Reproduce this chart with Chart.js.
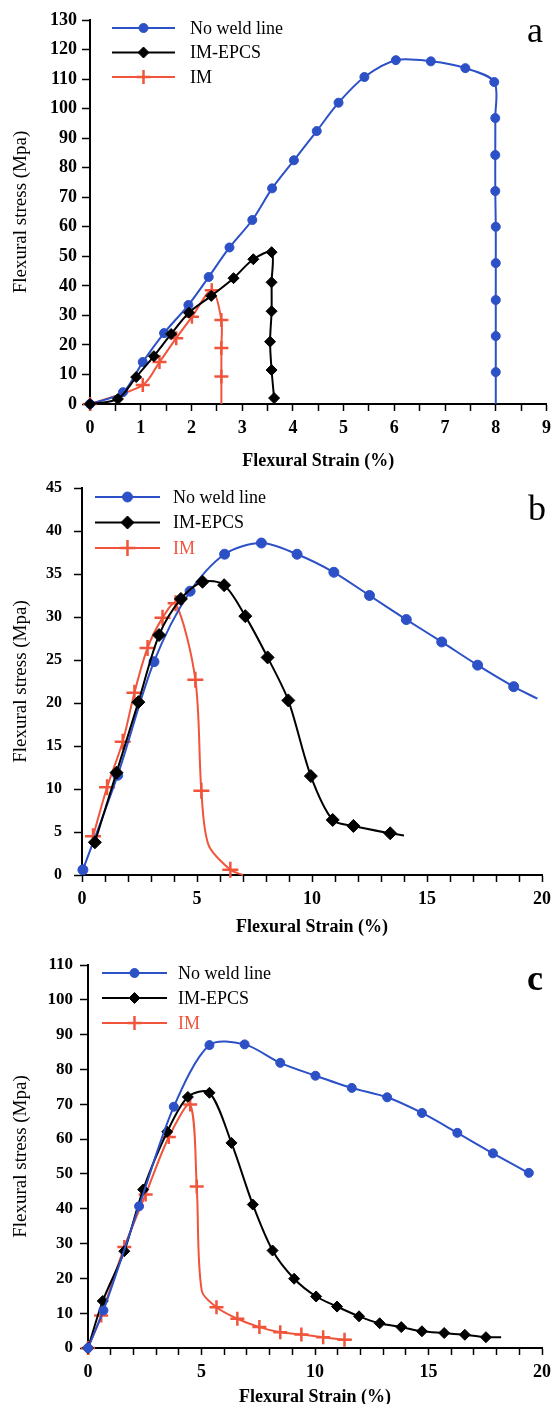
<!DOCTYPE html>
<html>
<head>
<meta charset="utf-8">
<script src="https://cdn.jsdelivr.net/npm/chart.js@4.4.1/dist/chart.umd.min.js"></script>
<style>
  html, body { margin: 0; padding: 0; background: #fff; }
  body { width: 558px; height: 1404px; position: relative; overflow: hidden; }
  canvas { position: absolute; left: 0; }
</style>
</head>
<body>
<canvas id="panelA" width="558" height="480" style="top:0px"></canvas>
<canvas id="panelB" width="558" height="480" style="top:460px"></canvas>
<canvas id="panelC" width="558" height="490" style="top:930px"></canvas>
<script>
// series names, same in all three panels
const seriesNames = ["No weld line", "IM-EPCS", "IM"];

// panel a : strain (%) / stress (MPa)
const aNoWeldX = [0, 0.65, 1.04, 1.46, 1.94, 2.34, 2.75, 3.2, 3.59, 4.02, 4.47, 4.9, 5.41, 6.03, 6.72, 7.4, 7.97, 7.99, 7.99, 7.99, 8.0, 8.0, 8.0, 8.0, 8.0, 8.0];
const aNoWeldY = [0, 4, 14.2, 24, 33.5, 43, 53, 62.3, 73, 82.5, 92.4, 102, 110.7, 116.4, 116, 113.7, 109, 96.8, 84.3, 72.1, 60, 47.7, 35.2, 23, 10.8, 0];
const aEpcsX = [0, 0.55, 0.91, 1.26, 1.6, 1.95, 2.39, 2.83, 3.22, 3.58, 3.58, 3.58, 3.55, 3.58, 3.63];
const aEpcsY = [0, 1.7, 9.1, 16.2, 23.7, 30.9, 36.6, 42.6, 49, 51.4, 41.2, 31.4, 21.1, 11.5, 2];
const aImX = [0, 1.04, 1.37, 1.7, 2.01, 2.4, 2.59, 2.59, 2.59, 2.59];
const aImY = [0, 6.4, 14.2, 22.3, 29.5, 38.5, 28.4, 19, 9.3, 0];

// panel b
const bNoWeldX = [0.04, 1.55, 3.13, 4.7, 6.2, 7.8, 9.35, 10.95, 12.5, 14.1, 15.64, 17.2, 18.77, 19.8];
const bNoWeldY = [0.6, 11.6, 24.8, 33, 37.3, 38.6, 37.3, 35.2, 32.5, 29.7, 27.1, 24.4, 21.9, 20.5];
const bEpcsX = [0.56, 1.5, 2.45, 3.35, 4.3, 5.24, 6.18, 7.1, 8.07, 8.97, 9.95, 10.9, 11.8, 13.4, 14.0];
const bEpcsY = [3.8, 11.9, 20.1, 27.9, 32.1, 34.1, 33.7, 30.1, 25.3, 20.3, 11.5, 6.4, 5.7, 4.85, 4.6];
const bImX = [0.48, 1.09, 1.77, 2.28, 2.85, 3.5, 4.07, 4.93, 5.19, 5.5, 6.45, 7.0];
const bImY = [4.5, 10.2, 15.5, 21.2, 26.4, 29.9, 31.6, 22.7, 9.8, 3.5, 0.6, 0];

// panel c
const cNoWeldX = [0, 0.68, 2.25, 3.78, 5.35, 6.9, 8.47, 10.02, 11.62, 13.18, 14.71, 16.27, 17.84, 19.42];
const cNoWeldY = [0, 10.8, 40.7, 69.3, 87.0, 87.2, 81.9, 78.2, 74.7, 72.0, 67.5, 61.8, 55.9, 50.3];
const cEpcsX = [0, 0.65, 1.6, 2.43, 3.49, 4.4, 5.35, 6.32, 7.26, 8.13, 9.08, 10.05, 10.97, 11.94, 12.85, 13.8, 14.71, 15.69, 16.6, 17.53, 18.2];
const cEpcsY = [0, 13.5, 27.8, 45.5, 62.1, 72.1, 73.3, 58.9, 41.2, 28.0, 19.9, 14.8, 11.9, 9.1, 7.1, 6.0, 4.8, 4.3, 3.8, 3.1, 3.1];
const cImX = [0, 0.58, 1.6, 2.54, 3.56, 4.5, 4.79, 5.01, 5.66, 6.58, 7.55, 8.47, 9.4, 10.36, 11.3, 11.62];
const cImY = [0, 9.3, 29.0, 44.1, 60.6, 69.9, 46.4, 16.5, 11.7, 8.4, 6.0, 4.5, 3.9, 3.1, 2.4, 2.4];

const BLUE = "#2c50c6";
const RED = "#f0553c";
const BLACK = "#000000";
const SERIF = "'Liberation Serif', 'Times New Roman', serif";

Chart.defaults.font.family = SERIF;
Chart.defaults.color = "#000";

// bare = indexes where the curve only bends, no marker drawn
function series(label, xs, ys, look, bare) {
	return {
		label: label,
		data: xs.map((x, i) => ({ x: x, y: ys[i] })),
		borderColor: look.color,
		backgroundColor: look.color,
		borderWidth: 2,
		pointStyle: look.style,
		pointRadius: c => bare.indexOf(c.dataIndex) >= 0 ? 0 : look.radius,
		pointHoverRadius: look.radius,
		pointBorderWidth: look.style === "cross" ? 2.5 : 1,
		pointBorderColor: look.color,
		pointBackgroundColor: look.color,
		tension: 0.3,
		clip: false,
		order: look.order
	};
}

const inlineLegend = {
	id: "inlineLegend",
	afterDraw(chart, args, o) {
		const ctx = chart.ctx;
		ctx.save();
		o.looks.forEach((look, i) => {
			const y = o.y + i * o.gap;
			ctx.strokeStyle = look.color;
			ctx.fillStyle = look.color;
			ctx.lineWidth = 2;
			ctx.beginPath();
			ctx.moveTo(o.x, y);
			ctx.lineTo(o.x + o.len, y);
			ctx.stroke();
			ctx.lineWidth = look.style === "cross" ? 2.5 : 1;
			Chart.helpers.drawPoint(ctx, { pointStyle: look.style, radius: look.radius, rotation: 0, borderWidth: ctx.lineWidth }, o.x + o.len / 2, y);
			ctx.fillStyle = o.textColors[i];
			ctx.font = "18px " + SERIF;
			ctx.textAlign = "left";
			ctx.textBaseline = "middle";
			ctx.fillText(seriesNames[i], o.x + o.len + o.textGap, y + 1);
		});
		ctx.fillStyle = "#000";
		ctx.font = (o.letterBold ? "bold " : "") + "36px " + SERIF;
		ctx.textAlign = "center";
		ctx.textBaseline = "alphabetic";
		ctx.fillText(o.letter, o.letterX, o.letterY);
		ctx.restore();
	}
};

function panel(id, p) {
	const canvas = document.getElementById(id);
	const H = canvas.height;
	const near = (v, n) => Math.abs(v / n - Math.round(v / n)) < 1e-6;
	return new Chart(canvas, {
		type: "line",
		data: { datasets: p.datasets },
		plugins: [inlineLegend],
		options: {
			responsive: false,
			animation: false,
			layout: { padding: { left: 0, top: p.box.top, right: 558 - p.box.right, bottom: 0 } },
			plugins: {
				legend: { display: false },
				tooltip: { enabled: false },
				inlineLegend: p.legend
			},
			scales: {
				x: {
					type: "linear",
					min: 0,
					max: p.xMax,
					afterFit: s => { s.height = H - p.box.bottom; },
					ticks: {
						stepSize: p.xStep,
						autoSkip: false,
						maxRotation: 0,
						padding: 7,
						color: "#000",
						font: { size: 18, weight: "bold" },
						callback: v => near(v, p.xLabelEvery) ? Math.round(v) : ""
					},
					grid: { drawOnChartArea: false, tickLength: 7, tickWidth: 1.5, tickColor: "#000" },
					border: { display: true, color: "#000", width: 2 },
					title: {
						display: true,
						text: "Flexural Strain (%)",
						color: "#000",
						font: { size: 18, weight: "bold" },
						padding: { top: 0, bottom: p.xTitlePad }
					}
				},
				y: {
					min: 0,
					max: p.yMax,
					afterFit: s => { s.width = p.box.left; },
					ticks: {
						stepSize: p.yStep,
						autoSkip: false,
						padding: p.yPad,
						color: "#000",
						font: { size: p.yFont, weight: "bold" }
					},
					grid: { drawOnChartArea: false, tickLength: 8, tickWidth: 1.5, tickColor: "#000" },
					border: { display: true, color: "#000", width: 2 },
					title: {
						display: true,
						text: "Flexural stress (Mpa)",
						color: "#000",
						font: { size: 19 },
						padding: { top: 10, bottom: 0 }
					}
				}
			}
		}
	});
}

// panel a
const looksA = [
	{ color: BLUE, style: "circle", radius: 4.5, order: 1 },
	{ color: BLACK, style: "rectRot", radius: 5.5, order: 0 },
	{ color: RED, style: "cross", radius: 7, order: 2 }
];
panel("panelA", {
	box: { left: 90, right: 551, top: 20, bottom: 404 },
	xMax: 9, xStep: 0.5, xLabelEvery: 1, xTitlePad: 8,
	yMax: 130, yStep: 10, yPad: 5, yFont: 18,
	datasets: [
		series(seriesNames[0], aNoWeldX, aNoWeldY, looksA[0], [25]),
		series(seriesNames[1], aEpcsX, aEpcsY, looksA[1], []),
		series(seriesNames[2], aImX, aImY, looksA[2], [9])
	],
	legend: { looks: looksA, x: 112, y: 28, gap: 24.5, len: 63, textGap: 15, textColors: [BLACK, BLACK, BLACK], letter: "a", letterX: 535, letterY: 42 }
});

// panel b
const looksB = [
	{ color: BLUE, style: "circle", radius: 5, order: 1 },
	{ color: BLACK, style: "rectRot", radius: 6.5, order: 0 },
	{ color: RED, style: "cross", radius: 8, order: 2 }
];
panel("panelB", {
	box: { left: 82, right: 547, top: 28, bottom: 415 },
	xMax: 20, xStep: 1, xLabelEvery: 5, xTitlePad: 2,
	yMax: 45, yStep: 5, yPad: 12, yFont: 16,
	datasets: [
		series(seriesNames[0], bNoWeldX, bNoWeldY, looksB[0], [13]),
		series(seriesNames[1], bEpcsX, bEpcsY, looksB[1], [14]),
		series(seriesNames[2], bImX, bImY, looksB[2], [9, 11])
	],
	legend: { looks: looksB, x: 95, y: 37, gap: 25.5, len: 65, textGap: 13, textColors: [BLACK, BLACK, RED], letter: "b", letterX: 537, letterY: 60 }
});

// panel c
const looksC = [
	{ color: BLUE, style: "circle", radius: 4.5, order: 0 },
	{ color: BLACK, style: "rectRot", radius: 5.5, order: 1 },
	{ color: RED, style: "cross", radius: 7, order: 2 }
];
panel("panelC", {
	box: { left: 88, right: 548, top: 35, bottom: 418 },
	xMax: 20, xStep: 1, xLabelEvery: 5, xTitlePad: 12,
	yMax: 110, yStep: 10, yPad: 7, yFont: 17,
	datasets: [
		series(seriesNames[0], cNoWeldX, cNoWeldY, looksC[0], []),
		series(seriesNames[1], cEpcsX, cEpcsY, looksC[1], [20]),
		series(seriesNames[2], cImX, cImY, looksC[2], [7, 15])
	],
	legend: { looks: looksC, x: 102, y: 43, gap: 25, len: 65, textGap: 11, textColors: [BLACK, BLACK, RED], letter: "c", letterX: 535, letterY: 60, letterBold: true }
});
</script>
</body>
</html>
